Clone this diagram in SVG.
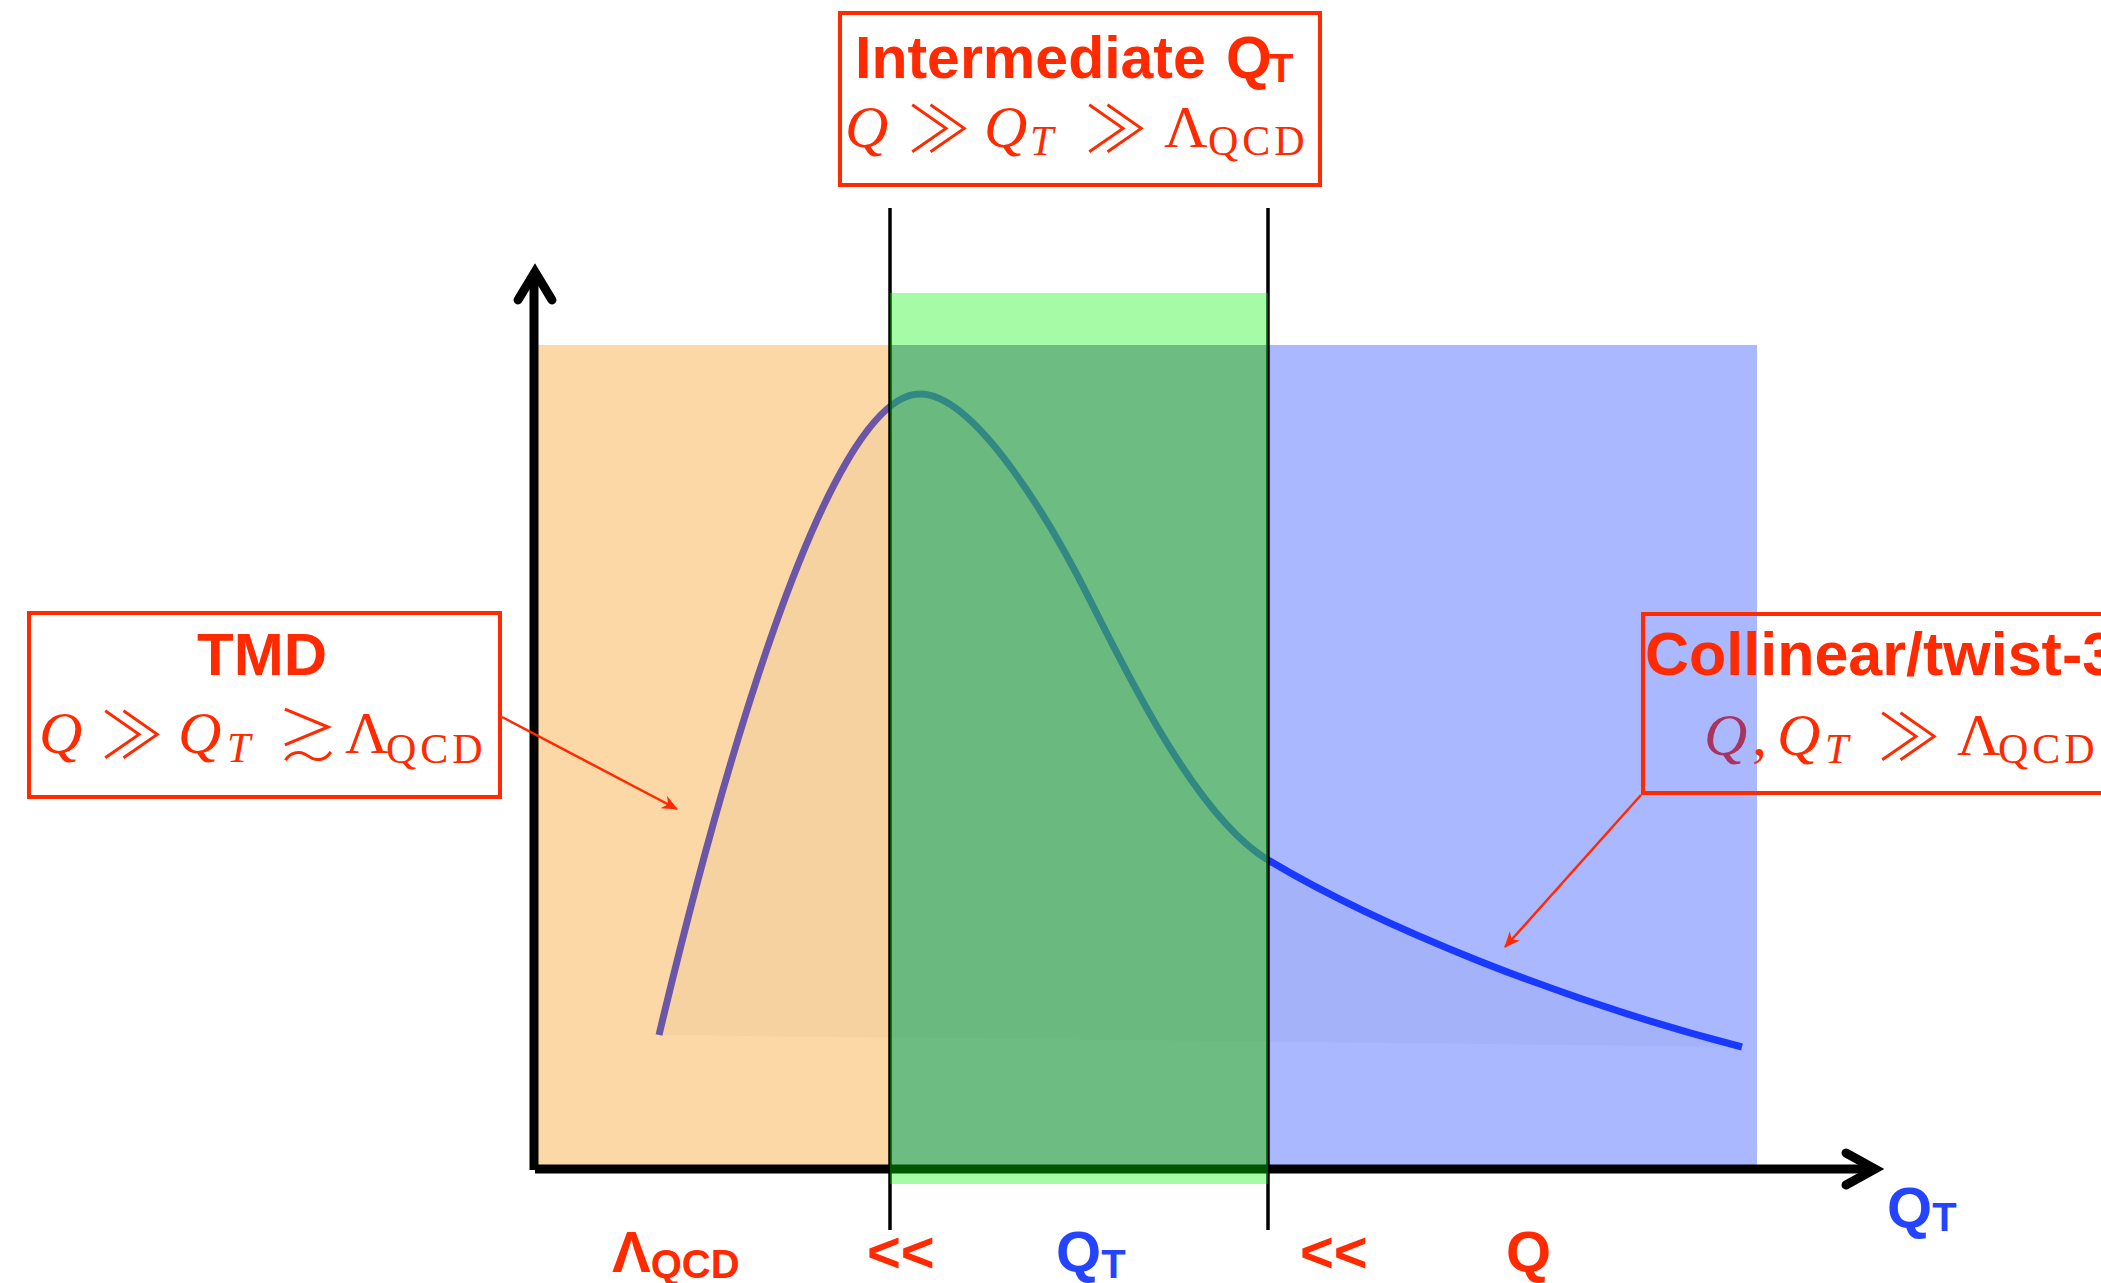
<svg xmlns="http://www.w3.org/2000/svg" width="2101" height="1283" viewBox="0 0 2101 1283">
<style>
.hd{font-family:"Liberation Sans",Arial,sans-serif;font-weight:bold;fill:#FF2A00}
.m{font-family:"Liberation Serif","DejaVu Serif",serif;font-size:60px;fill:#FF2A00}
.it{font-style:italic}
.sub{font-size:42px}
.sym{font-family:"Noto Sans CJK JP","DejaVu Sans",sans-serif;font-style:normal;font-weight:300}
.box{fill:none;stroke:#FF2A00;stroke-width:4}
.lead{stroke:#FF2A00;stroke-width:2.5;fill:none;marker-end:url(#ah)}
.axis{stroke:#000;stroke-width:9;fill:none}
.head{stroke:#000;stroke-width:9;fill:none;stroke-linecap:round;stroke-linejoin:miter}
.vline{stroke:#000;stroke-width:3.5}
.lbl{font-family:"Liberation Sans",Arial,sans-serif;font-weight:bold;font-size:58px}
</style>
<defs>
<marker id="ah" viewBox="0 0 16 14" refX="15" refY="7" markerWidth="16" markerHeight="14" markerUnits="userSpaceOnUse" orient="auto">
<path d="M0,0 L16,7 L0,14 L5,7 Z" fill="#FF2A00"/>
</marker>
<path id="crv" d="M659,1035 C715,800 825,394 920,394 C975,394 1050,520 1090,600 C1130,680 1198,818 1268,860 C1378,926 1560,1000 1742,1047"/>
</defs>
<rect width="2101" height="1283" fill="#fff"/>

<g id="curve">
<path d="M659,1035 C715,800 825,394 920,394 C975,394 1050,520 1090,600 C1130,680 1198,818 1268,860 C1378,926 1560,1000 1742,1047 Z" fill="#000" fill-opacity="0.035"/>
<use href="#crv" fill="none" stroke="#1832FF" stroke-width="7"/>
</g>

<g id="region-tmd">
<rect x="538" y="345" width="730" height="820" fill="rgb(250,150,15)" fill-opacity="0.37"/>
</g>
<g id="region-collinear">
<rect x="890" y="345" width="867" height="820" fill="rgb(30,70,255)" fill-opacity="0.385"/>
</g>

<g id="axes">
<line class="axis" x1="534" y1="1170" x2="534" y2="280"/>
<polyline class="head" points="518,300 535,272 552,300"/>
<line class="axis" x1="535" y1="1169" x2="1874" y2="1169"/>
<polyline class="head" points="1846,1153 1875,1169 1846,1185"/>
<line class="vline" x1="890" y1="208" x2="890" y2="1230"/>
<line class="vline" x1="1268" y1="208" x2="1268" y2="1230"/>
</g>

<g id="region-intermediate">
<rect x="890" y="293" width="378" height="891" fill="rgb(0,243,0)" fill-opacity="0.35"/>
</g>

<g id="connectors">
<line class="lead" x1="502" y1="717" x2="677" y2="809"/>
<line class="lead" x1="1641" y1="795" x2="1505" y2="947"/>
</g>

<g id="node-intermediate">
<rect class="box" x="840" y="13" width="480" height="172"/>
<text class="hd" x="855" y="78" font-size="59">Intermediate<tspan x="1226">Q</tspan><tspan x="1269" y="82" font-size="40">T</tspan></text>
<text class="m" y="147"><tspan class="it" x="845">Q</tspan><tspan class="sym" x="907" y="152" font-size="64">≫</tspan><tspan class="it" x="984" y="147">Q</tspan><tspan class="it sub" x="1030" y="155">T</tspan><tspan class="sym" x="1084" y="152" font-size="64">≫</tspan><tspan x="1164" y="147">Λ</tspan><tspan class="sub" x="1208" y="155" letter-spacing="4">QCD</tspan></text>
</g>

<g id="node-tmd">
<rect class="box" x="29" y="613" width="471" height="184"/>
<text class="hd" x="262" y="675" font-size="60" text-anchor="middle">TMD</text>
<text class="m" y="753"><tspan class="it" x="39">Q</tspan><tspan class="sym" x="100" y="758" font-size="64">≫</tspan><tspan class="it" x="178" y="753">Q</tspan><tspan class="it sub" x="227" y="762">T</tspan><tspan class="sym" x="277" y="758" font-size="62">≳</tspan><tspan x="345" y="753">Λ</tspan><tspan class="sub" x="386" y="763" letter-spacing="4">QCD</tspan></text>
</g>

<g id="node-collinear">
<rect class="box" x="1643" y="614" width="520" height="179"/>
<text class="hd" x="1645" y="675" font-size="61">Collinear/twist-3</text>
<text class="m" y="755"><tspan class="it" x="1704" fill="#A8355F">Q</tspan><tspan x="1752">,</tspan><tspan class="it" x="1777">Q</tspan><tspan class="it sub" x="1825" y="763">T</tspan><tspan class="sym" x="1877" y="760" font-size="64">≫</tspan><tspan x="1957" y="755">Λ</tspan><tspan class="sub" x="1998" y="763" letter-spacing="4">QCD</tspan></text>
</g>

<g id="axis-labels">
<text class="lbl" x="1887" y="1228" fill="#2444FF">Q<tspan font-size="40" y="1231">T</tspan></text>
<text class="lbl" x="612" y="1272" fill="#FF2A00">Λ<tspan font-size="40" y="1278">QCD</tspan></text>
<text class="lbl" x="867" y="1272" fill="#FF2A00">&lt;&lt;</text>
<text class="lbl" x="1056" y="1272" fill="#2444FF">Q<tspan font-size="40" y="1278">T</tspan></text>
<text class="lbl" x="1300" y="1272" fill="#FF2A00">&lt;&lt;</text>
<text class="lbl" x="1506" y="1272" fill="#FF2A00">Q</text>
</g>
</svg>
